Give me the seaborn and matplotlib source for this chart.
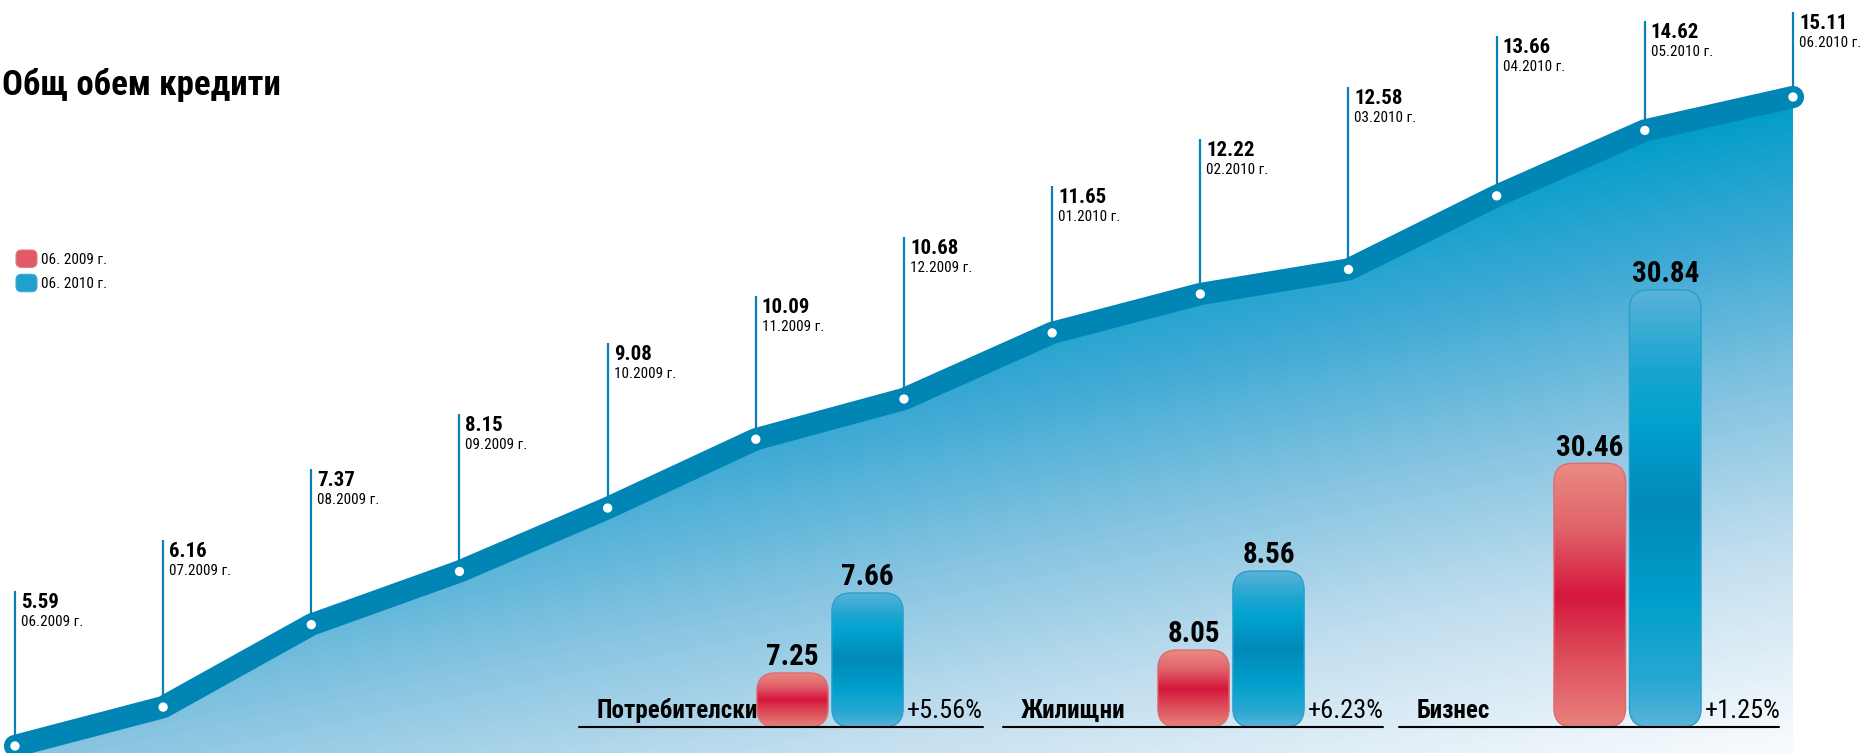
import numpy as np
import pandas as pd
import seaborn as sns
import matplotlib
matplotlib.use("Agg")
import matplotlib.pyplot as plt
from matplotlib import font_manager as fm
from matplotlib.patches import FancyBboxPatch, Patch
from matplotlib.colors import LinearSegmentedColormap
from matplotlib.legend_handler import HandlerPatch

# ---------------- data ----------------
months = ["06.2009 г.", "07.2009 г.", "08.2009 г.", "09.2009 г.", "10.2009 г.",
          "11.2009 г.", "12.2009 г.", "01.2010 г.", "02.2010 г.", "03.2010 г.",
          "04.2010 г.", "05.2010 г.", "06.2010 г."]
volumes = [5.59, 6.16, 7.37, 8.15, 9.08, 10.09, 10.68, 11.65, 12.22, 12.58,
           13.66, 14.62, 15.11]
categories = ["Потребителски", "Жилищни", "Бизнес"]
vals_2009 = [7.25, 8.05, 30.46]
vals_2010 = [7.66, 8.56, 30.84]
changes = ["+5.56%", "+6.23%", "+1.25%"]
years = ["06. 2009 г.", "06. 2010 г."]
title = "Общ обем кредити"

# ---------------- layout (pixels of the 1861x753 canvas) ----------------
W_PX, H_PX = 1861, 753
main_xlim = (-0.101, 12.459)
main_ylim = (5.487, 16.533)
stem_top_px = [591, 540, 469, 414, 343, 296, 237, 186, 139, 87, 36, 21, 12]
line_spans = [(579, 983), (1003, 1383), (1399, 1779)]
bar_spans = [(755, 905), (1156, 1306), (1552, 1703)]
group_ylims = [(6.973, 9.536), (7.553, 10.781), (29.882, 30.978)]
BASE_PX, GROUP_H_PX = 727, 500
R_PX = 19

sns.set_theme(style="white")

# pick a narrow / condensed face if one is installed
entries = fm.fontManager.ttflist
names = {f.name for f in entries}
STRETCH = "normal"
FAM = None
for cand in ["Liberation Sans Narrow", "Roboto Condensed", "Open Sans Condensed",
             "Noto Sans Condensed", "DejaVu Sans Condensed", "Arial Narrow"]:
    if cand in names:
        FAM = cand
        break
if FAM is None:
    narrow = sorted(n for n in names if ("Narrow" in n or "Condensed" in n))
    if narrow:
        FAM = narrow[0]
if FAM is None:
    cond = [f for f in entries
            if str(f.stretch) in ("condensed", "semi-condensed", "extra-condensed")
            and f.name in ("DejaVu Sans", "Noto Sans", "Open Sans", "Roboto", "Inter")]
    if cond:
        FAM = cond[0].name
        STRETCH = str(cond[0].stretch)
if FAM is None:
    FAM = "DejaVu Sans"
SF = 1.0 if (STRETCH != "normal" or FAM != "DejaVu Sans") else 0.8

plt.rcParams["font.family"] = [FAM, "DejaVu Sans"]
plt.rcParams["font.stretch"] = STRETCH

fig = plt.figure(figsize=(W_PX / 100, H_PX / 100), dpi=100)
fig.patch.set_facecolor("white")
ax = fig.add_axes([0, 0, 1, 1])
ax.set_axis_off()
ax.set_facecolor("white")

idx = np.arange(len(volumes))

# gradient area fill
poly = ax.fill_between(idx, volumes, main_ylim[0], color="none", lw=0)
yy, xx = np.mgrid[0:H_PX, 0:W_PX]
Lval = np.clip((yy - 100) / 640 + (xx - 1790) * 3.25e-4, 0, 1)
fill_cmap = LinearSegmentedColormap.from_list(
    "fill", [(0, "#009DCA"), (0.2, "#3CA9D4"), (0.45, "#86C4E1"),
             (0.7, "#C3DFEF"), (1, "#F6FAFD")])
img = ax.imshow(Lval, cmap=fill_cmap, vmin=0, vmax=1,
                extent=(*main_xlim, *main_ylim), origin="upper",
                aspect="auto", zorder=1, interpolation="bilinear")
img.set_clip_path(poly.get_paths()[0], poly.get_transform())

Hdat = main_ylim[1] - main_ylim[0]


def px_to_y(p):
    return main_ylim[0] + (H_PX - p) / H_PX * Hdat


# stems
ax.vlines(idx, volumes, [px_to_y(t) for t in stem_top_px],
          color="#0A7FB8", lw=1.6, zorder=2)

# thick line band + white dots
sns.lineplot(x=idx, y=volumes, ax=ax, color="#0085B5", lw=16, zorder=3,
             solid_capstyle="round")
sns.scatterplot(x=idx, y=volumes, ax=ax, color="white", s=45,
                edgecolor="none", zorder=4)

# labels
PT = 72 / 100
for i, (v, m, top) in enumerate(zip(volumes, months, stem_top_px)):
    ax.annotate(f"{v:.2f}", xy=(i, px_to_y(top)), xytext=(6 * PT, -17 * PT),
                textcoords="offset points", ha="left", va="baseline",
                fontsize=15 * SF, fontweight="bold", color="black", zorder=5)
    ax.annotate(m, xy=(i, px_to_y(top)), xytext=(6 * PT, -35 * PT),
                textcoords="offset points", ha="left", va="baseline",
                fontsize=10.9 * SF, color="black", zorder=5)

ax.set_xlim(main_xlim)
ax.set_ylim(main_ylim)

# title
fig.text(2 / W_PX, 1 - 95 / H_PX, title, ha="left", va="baseline",
         fontsize=25 * SF, fontweight="bold", color="black")


# legend with rounded swatches
class RoundHandler(HandlerPatch):
    def create_artists(self, legend, orig_handle, xdescent, ydescent, width,
                       height, fontsize, trans):
        p = FancyBboxPatch((-xdescent, -ydescent), width, height,
                           boxstyle="round,pad=0,rounding_size=4",
                           fc=orig_handle.get_facecolor(),
                           ec=orig_handle.get_edgecolor(), lw=0.8,
                           transform=trans)
        return [p]


handles = [Patch(facecolor="#E25A66", edgecolor="#E07A84", label=years[0]),
           Patch(facecolor="#1FA0CE", edgecolor="#3AA8D4", label=years[1])]
fs_leg = 11 * SF
sw_pt = 21 * PT
fig.legend(handles=handles, loc="upper left",
           bbox_to_anchor=(16 / W_PX, 1 - 250 / H_PX), frameon=False,
           fontsize=fs_leg, handlelength=sw_pt / fs_leg,
           handleheight=sw_pt / fs_leg, handletextpad=0.25,
           labelspacing=5 / fs_leg, borderpad=0, borderaxespad=0,
           labelcolor="black", handler_map={Patch: RoundHandler()})

# grouped bars
red_cmap = LinearSegmentedColormap.from_list(
    "red", [(0, "#EA8A82"), (0.25, "#E0636A"), (0.5, "#D5163D"),
            (0.72, "#DC4A58"), (1, "#E7827C")])
blue_cmap = LinearSegmentedColormap.from_list(
    "blue", [(0, "#5AB2D8"), (0.18, "#1AA5D0"), (0.3, "#00A2CE"),
             (0.5, "#0089BA"), (0.72, "#00A0CC"), (0.9, "#2AA8D2"),
             (1, "#5AB3D9")])
edges = ["#E06A74", "#2A9FCC"]

for k, cat in enumerate(categories):
    L, R = line_spans[k]
    bl, br = bar_spans[k]
    axg = fig.add_axes([L / W_PX, 1 - BASE_PX / H_PX, (R - L) / W_PX,
                        GROUP_H_PX / H_PX])
    axg.set_facecolor("none")
    df = pd.DataFrame({"cat": [cat, cat],
                       "val": [vals_2009[k], vals_2010[k]],
                       "year": years})
    sns.barplot(data=df, x="cat", y="val", hue="year", hue_order=years,
                palette=["#D8263F", "#0095C6"], width=1.0, gap=0.05,
                dodge=True, legend=False, saturation=1, errorbar=None,
                ax=axg)
    axg.set_axis_off()
    Wb = br - bl
    gx = (-0.5 - (bl - L) / Wb, 0.5 + (R - br) / Wb)
    gy = group_ylims[k]
    xu = (gx[1] - gx[0]) / (R - L)
    yu = (gy[1] - gy[0]) / GROUP_H_PX
    bars = sorted(axg.patches, key=lambda p: p.get_x())
    for bar, cm, edge in zip(bars, [red_cmap, blue_cmap], edges):
        x, w, top = bar.get_x(), bar.get_width(), bar.get_height()
        bar.set_visible(False)
        rp = FancyBboxPatch((x, gy[0]), w, top - gy[0],
                            boxstyle=f"round,pad=0,rounding_size={R_PX * xu}",
                            mutation_aspect=yu / xu, fc="none", ec=edge,
                            lw=1.0, zorder=3)
        axg.add_patch(rp)
        grad = np.linspace(0, 1, 256)[:, None]
        im = axg.imshow(grad, cmap=cm, extent=(x, x + w, gy[0], top),
                        origin="upper", aspect="auto", zorder=2,
                        interpolation="bilinear")
        im.set_clip_path(rp)
        axg.annotate(f"{top:.2f}", xy=(x + w / 2, top), xytext=(0, 5.5),
                     textcoords="offset points", ha="center", va="baseline",
                     fontsize=21 * SF, fontweight="bold", color="black")
    axg.set_xlim(gx)
    axg.set_ylim(gy)
    axg.axhline(gy[0], color="black", lw=1.5, clip_on=False, zorder=4)
    axg.text(18 / (R - L), 9 / GROUP_H_PX, cat, transform=axg.transAxes,
             ha="left", va="baseline", fontsize=18 * SF, fontweight="bold",
             color="black")
    axg.annotate(changes[k], xy=(bars[1].get_x() + bars[1].get_width(), gy[0]),
                 xytext=(2.5, 6.5), textcoords="offset points", ha="left",
                 va="baseline", fontsize=19 * SF, color="black")

fig.savefig("out.png", dpi=100, facecolor="white")
